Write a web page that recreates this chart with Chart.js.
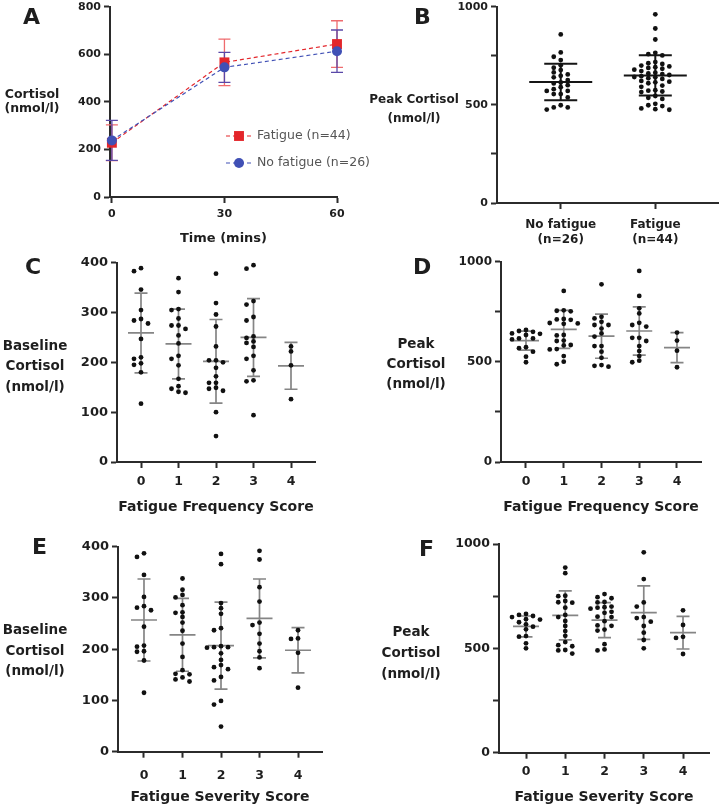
<!DOCTYPE html>
<html>
<head>
<meta charset="utf-8">
<script src="https://cdn.jsdelivr.net/npm/chart.js@4.4.0/dist/chart.umd.min.js"></script>
<style>
	html, body { margin: 0; padding: 0; background: #fff; }
	body { position: relative; width: 722px; height: 810px; overflow: hidden; font-family: 'DejaVu Sans', sans-serif; color: #1e1e1e; }
	canvas { position: absolute; }
	.letter { position: absolute; font-weight: bold; font-size: 22px; line-height: 22px; }
	.ytitle { position: absolute; width: 150px; text-align: center; font-weight: bold; white-space: pre-line; }
</style>
</head>
<body>
<script>
// Panel A: cortisol over time (mean, SD)
const timePoints = [0, 30, 60]
const fatigueMean = [228, 566, 643]
const fatigueSd = [75, 98, 98]
const noFatigueMean = [238, 545, 613]
const noFatigueSd = [84, 63, 89]
const seriesLabels = ['Fatigue (n=44)', 'No fatigue (n=26)']

// Panel B: peak cortisol by group
const groupLabels = [['No fatigue', '(n=26)'], ['Fatigue', '(n=44)']]
const peakNoFatigue = [859, 767, 745, 728, 702, 689, 677, 665, 655, 648, 640, 626, 614, 609, 600, 590, 580, 571, 571, 555, 555, 538, 498, 487, 487, 476]
const peakFatigue = [961, 889, 833, 765, 758, 752, 718, 712, 708, 700, 696, 692, 688, 684, 679, 672, 664, 660, 657, 652, 646, 642, 640, 636, 632, 622, 618, 615, 610, 598, 592, 575, 572, 568, 565, 545, 536, 530, 505, 498, 494, 482, 478, 475]
const groupMean = [617, 650]
const groupSd = [93, 103]

// Panels C-F: scores 0-4
const scoreCats = [0, 1, 2, 3, 4]

const freqBaseline = [
	[389, 383, 346, 305, 287, 284, 278, 247, 210, 207, 198, 195, 180, 117],
	[369, 341, 307, 305, 288, 274, 274, 267, 254, 238, 213, 207, 194, 167, 152, 147, 141, 139],
	[378, 319, 296, 272, 232, 204, 204, 200, 189, 172, 159, 159, 149, 147, 143, 100, 52],
	[395, 388, 323, 316, 291, 284, 252, 249, 242, 239, 231, 213, 207, 184, 164, 162, 94],
	[232, 222, 194, 126],
]
const freqBaselineMean = [259, 237, 202, 250, 193]
const freqBaselineSd = [80, 70, 84, 78, 47]

const freqPeak = [
	[659, 654, 650, 642, 640, 634, 617, 617, 612, 573, 568, 551, 526, 498],
	[854, 757, 755, 752, 714, 712, 710, 694, 692, 690, 634, 632, 606, 604, 584, 582, 564, 562, 529, 501, 488],
	[887, 725, 717, 700, 684, 684, 666, 642, 626, 579, 579, 551, 520, 484, 480, 476],
	[954, 829, 767, 742, 695, 684, 676, 620, 620, 604, 579, 554, 529, 506, 498],
	[646, 606, 556, 473],
]
const freqPeakMean = [606, 662, 628, 654, 571]
const freqPeakSd = [47, 95, 110, 120, 75]

const sevBaseline = [
	[387, 380, 345, 302, 284, 281, 276, 244, 207, 205, 196, 195, 178, 115],
	[338, 316, 306, 301, 286, 272, 271, 263, 252, 236, 211, 185, 159, 152, 151, 145, 141, 137],
	[386, 366, 290, 280, 269, 241, 237, 206, 204, 204, 203, 192, 179, 169, 165, 161, 146, 139, 99, 92, 49],
	[392, 375, 321, 293, 252, 247, 230, 211, 196, 184, 163],
	[237, 221, 220, 193, 125],
]
const sevBaselineMean = [257, 228, 207, 260, 198]
const sevBaselineSd = [80, 71, 85, 77, 44]

const sevPeak = [
	[665, 660, 655, 650, 640, 638, 625, 615, 604, 591, 559, 556, 524, 500],
	[887, 860, 752, 750, 727, 721, 719, 695, 660, 650, 631, 607, 583, 560, 530, 515, 510, 492, 490, 475],
	[760, 745, 740, 722, 720, 700, 697, 695, 690, 675, 670, 652, 650, 630, 610, 608, 590, 585, 520, 495, 490],
	[960, 832, 720, 700, 650, 645, 628, 607, 575, 540, 500],
	[682, 612, 555, 550, 473],
]
const sevPeakMean = [605, 658, 635, 671, 575]
const sevPeakSd = [50, 117, 84, 128, 78]

const FONT = 'DejaVu Sans'
const INK = '#1e1e1e'
const AXIS = '#2b2b2b'
const RED = '#e3262b'
const BLUE = '#4050b5'
const STEP = 7 // px between swarm columns
const GAP = 4.6 // px, points closer than this vertically get spread

const bold = (size) => ({ family: FONT, size, weight: 'bold', lineHeight: 1.2 })

// mean line + SD whiskers
const meanSdPlugin = {
	id: 'meanSd',
	beforeDatasetsDraw(chart, args, opts) {
		const { ctx, scales: { x, y } } = chart
		ctx.save()
		ctx.strokeStyle = opts.color
		ctx.lineWidth = opts.lineWidth
		opts.means.forEach((m, i) => {
			const px = x.getPixelForValue(opts.cats[i])
			const pm = y.getPixelForValue(m)
			const pt = y.getPixelForValue(m + opts.sds[i])
			const pb = y.getPixelForValue(m - opts.sds[i])
			ctx.beginPath()
			ctx.moveTo(px, pt)
			ctx.lineTo(px, pb)
			ctx.moveTo(px - opts.capW / 2, pt)
			ctx.lineTo(px + opts.capW / 2, pt)
			ctx.moveTo(px - opts.capW / 2, pb)
			ctx.lineTo(px + opts.capW / 2, pb)
			ctx.moveTo(px - opts.meanW / 2, pm)
			ctx.lineTo(px + opts.meanW / 2, pm)
			ctx.stroke()
		})
		ctx.restore()
	},
}

// SD error bars for the time course
const errorBarPlugin = {
	id: 'errorBars',
	beforeDatasetsDraw(chart, args, opts) {
		const { ctx, scales: { x, y } } = chart
		ctx.save()
		ctx.lineWidth = 1.3
		opts.series.forEach((s) => {
			ctx.strokeStyle = s.color
			s.means.forEach((m, i) => {
				const px = x.getPixelForValue(opts.xs[i])
				const pt = y.getPixelForValue(m + s.sds[i])
				const pb = y.getPixelForValue(m - s.sds[i])
				ctx.beginPath()
				ctx.moveTo(px, pt)
				ctx.lineTo(px, pb)
				ctx.moveTo(px - 6, pt)
				ctx.lineTo(px + 6, pt)
				ctx.moveTo(px - 6, pb)
				ctx.lineTo(px + 6, pb)
				ctx.stroke()
			})
		})
		ctx.restore()
	},
}

// legend sitting inside the plot of panel A
const insetLegendPlugin = {
	id: 'insetLegend',
	afterDraw(chart, args, opts) {
		const { ctx } = chart
		ctx.save()
		chart.data.datasets.forEach((ds, i) => {
			const ly = opts.y + i * opts.gap
			ctx.strokeStyle = ds.borderColor
			ctx.fillStyle = ds.pointBackgroundColor
			ctx.lineWidth = ds.borderWidth
			ctx.setLineDash(ds.borderDash)
			ctx.beginPath()
			ctx.moveTo(opts.x, ly)
			ctx.lineTo(opts.x + 26, ly)
			ctx.stroke()
			ctx.setLineDash([])
			Chart.helpers.drawPoint(ctx, { pointStyle: ds.pointStyle, radius: ds.pointRadius, borderWidth: 0, rotation: 0 }, opts.x + 13, ly)
			ctx.fillStyle = '#555'
			ctx.font = '12.5px "' + FONT + '"'
			ctx.textBaseline = 'middle'
			ctx.fillText(ds.label, opts.x + 31, ly)
		})
		ctx.restore()
	},
}

function axisStyle() {
	return {
		border: { color: AXIS, width: 2 },
		grid: { drawOnChartArea: false, drawTicks: true, tickLength: 6, tickWidth: 2, tickColor: AXIS },
	}
}

function addText(cls, text, left, top, size, lh) {
	const d = document.createElement('div')
	d.className = cls
	d.textContent = text
	d.style.left = left + 'px'
	d.style.top = top + 'px'
	if (size) {
		d.style.fontSize = size + 'px'
		d.style.lineHeight = lh + 'px'
	}
	document.body.appendChild(d)
}

// y title: cx = centre x, cy = centre of first line
const yTitle = (text, cx, cy, size, lh) => addText('ytitle', text, cx - 75, cy - lh / 2, size, lh)
const letter = (text, x, cy) => addText('letter', text, x, cy - 11)

function panel(cfg) {
	const [L, T, W, H] = cfg.box
	const [x0, y0, x1, y1] = cfg.area
	const cv = document.createElement('canvas')
	cv.width = W
	cv.height = H
	cv.style.left = L + 'px'
	cv.style.top = T + 'px'
	document.body.appendChild(cv)
	return new Chart(cv, {
		type: 'scatter',
		data: { datasets: cfg.datasets },
		plugins: cfg.plugins,
		options: {
			responsive: false,
			animation: false,
			devicePixelRatio: 1,
			layout: { padding: { left: 0, top: y0 - T, right: L + W - x1, bottom: T + H - y1 - cfg.xH } },
			plugins: { legend: { display: false }, tooltip: { enabled: false }, ...cfg.pluginOpts },
			scales: {
				x: {
					type: 'linear',
					min: cfg.xMin,
					max: cfg.xMax,
					...axisStyle(),
					afterBuildTicks: (s) => { s.ticks = cfg.xTicks.map((v) => ({ value: v })) },
					afterFit: (s) => { s.height = cfg.xH },
					ticks: { font: bold(cfg.xTickSize), color: INK, padding: cfg.xTickPad, maxRotation: 0, autoSkip: false, callback: cfg.xLabel },
					title: { display: !!cfg.xTitle, text: cfg.xTitle, font: bold(cfg.xTitleSize || 14), color: INK, padding: 0 },
				},
				y: {
					type: 'linear',
					min: 0,
					max: cfg.yMax,
					...axisStyle(),
					afterFit: (s) => { s.width = x0 - L },
					ticks: { stepSize: cfg.yStep, font: bold(cfg.yTickSize), color: INK, padding: 3, callback: cfg.yLabel },
				},
			},
		},
	})
}

// spread the dots of each column sideways like a GraphPad scatter
function swarm(chart, groups, cats) {
	const xs = chart.scales.x
	const ys = chart.scales.y
	const unit = xs.getPixelForValue(1) - xs.getPixelForValue(0)
	groups.forEach((vals, gi) => {
		const placed = []
		chart.data.datasets[gi].data = vals.map((v) => {
			const py = ys.getPixelForValue(v)
			let dx = 0
			for (let k = 0; k < 30; k += 1) {
				const cand = k === 0 ? 0 : (k % 2 ? -1 : 1) * Math.ceil(k / 2) * STEP
				const hit = placed.some((p) => Math.abs(p.dx - cand) < STEP - 0.5 && Math.abs(p.py - py) < GAP)
				if (!hit) { dx = cand; break }
			}
			placed.push({ dx, py })
			return { x: cats[gi] + dx / unit, y: v }
		})
	})
	chart.update('none')
}

function dotSets(groups, cats) {
	return groups.map((vals, i) => ({
		data: vals.map((v) => ({ x: cats[i], y: v })),
		pointRadius: 2.4,
		pointBackgroundColor: '#111',
		pointBorderWidth: 0,
		clip: false,
	}))
}

const peakLabel = (v) => (v % 500 === 0 ? v : '')

// ---- A
const lineSet = (label, means, color, style, radius, order) => ({
	label,
	data: timePoints.map((t, i) => ({ x: t, y: means[i] })),
	showLine: true,
	borderColor: color,
	borderWidth: 1.2,
	borderDash: [4, 3],
	pointStyle: style,
	pointRadius: radius,
	pointBackgroundColor: color,
	pointBorderWidth: 0,
	clip: false,
	order,
})

panel({
	box: [0, -10, 420, 270],
	area: [110, 6.7, 337, 197],
	xH: 49,
	xMin: -0.5,
	xMax: 60,
	xTicks: timePoints,
	xTickSize: 11,
	xTickPad: 5,
	xTitle: 'Time (mins)',
	xTitleSize: 13,
	yMax: 800,
	yStep: 200,
	yTickSize: 11,
	datasets: [
		lineSet(seriesLabels[0], fatigueMean, RED, 'rect', 7, 1),
		lineSet(seriesLabels[1], noFatigueMean, BLUE, 'circle', 5, 0),
	],
	plugins: [errorBarPlugin, insetLegendPlugin],
	pluginOpts: {
		errorBars: {
			xs: timePoints,
			series: [
				{ means: fatigueMean, sds: fatigueSd, color: '#ef6b6e' },
				{ means: noFatigueMean, sds: noFatigueSd, color: '#5a48a8' },
			],
		},
		insetLegend: { x: 226, y: 146, gap: 27 },
	},
})

// ---- B
const groupCats = [1, 2]
const chartB = panel({
	box: [361, -10, 361, 270],
	area: [497, 6.7, 719, 203],
	xH: 50,
	xMin: 0.326,
	xMax: 2.663,
	xTicks: groupCats,
	xLabel: (v, i) => groupLabels[i],
	xTickSize: 12,
	xTickPad: 9,
	yMax: 1000,
	yStep: 250,
	yLabel: peakLabel,
	yTickSize: 11,
	datasets: dotSets([peakNoFatigue, peakFatigue], groupCats),
	plugins: [meanSdPlugin],
	pluginOpts: { meanSd: { cats: groupCats, means: groupMean, sds: groupSd, color: '#151515', lineWidth: 2, meanW: 63, capW: 33 } },
})
swarm(chartB, [peakNoFatigue, peakFatigue], groupCats)

// ---- C to F
const grayBars = (means, sds) => ({ meanSd: { cats: scoreCats, means, sds, color: '#858585', lineWidth: 1.7, meanW: 26, capW: 13 } })

const scorePanels = [
	{ box: [0, 250, 361, 270], area: [117, 262.7, 315, 462], xMin: -0.64, xMax: 4.64, xTickPad: 6.5, xH: 53.4, title: 'Fatigue Frequency Score', yMax: 400, yStep: 100, yTickSize: 13, groups: freqBaseline, means: freqBaselineMean, sds: freqBaselineSd },
	{ box: [361, 250, 361, 270], area: [501, 261.7, 701, 462], xMin: -0.662, xMax: 4.636, xTickPad: 6.5, xH: 53.4, title: 'Fatigue Frequency Score', yMax: 1000, yStep: 250, yTickSize: 12, groups: freqPeak, means: freqPeakMean, sds: freqPeakSd },
	{ box: [0, 530, 361, 280], area: [118, 546.7, 322, 751.7], xMin: -0.675, xMax: 4.623, xTickPad: 11, xH: 53.7, title: 'Fatigue Severity Score', yMax: 400, yStep: 100, yTickSize: 13, groups: sevBaseline, means: sevBaselineMean, sds: sevBaselineSd },
	{ box: [361, 530, 361, 280], area: [499, 544, 709, 752.7], xMin: -0.688, xMax: 4.662, xTickPad: 6, xH: 52.7, title: 'Fatigue Severity Score', yMax: 1000, yStep: 250, yTickSize: 12.5, groups: sevPeak, means: sevPeakMean, sds: sevPeakSd },
]

scorePanels.forEach((p) => {
	const chart = panel({
		box: p.box,
		area: p.area,
		xH: p.xH,
		xMin: p.xMin,
		xMax: p.xMax,
		xTicks: scoreCats,
		xTickSize: 12.5,
		xTickPad: p.xTickPad,
		xTitle: p.title,
		yMax: p.yMax,
		yStep: p.yStep,
		yLabel: p.yMax === 1000 ? peakLabel : undefined,
		yTickSize: p.yTickSize,
		datasets: dotSets(p.groups, scoreCats),
		plugins: [meanSdPlugin],
		pluginOpts: grayBars(p.means, p.sds),
	})
	swarm(chart, p.groups, scoreCats)
})

// titles and panel letters
yTitle('Cortisol\n(nmol/l)', 32, 94, 12.5, 14.5)
yTitle('Peak Cortisol\n(nmol/l)', 414, 99.5, 12, 19)
yTitle('Baseline\nCortisol\n(nmol/l)', 35, 345, 13.5, 20.5)
yTitle('Peak\nCortisol\n(nmol/l)', 416, 343.3, 13.5, 20)
yTitle('Baseline\nCortisol\n(nmol/l)', 35, 629.3, 13.5, 20.5)
yTitle('Peak\nCortisol\n(nmol/l)', 411, 631.7, 13.5, 21)

letter('A', 23, 17)
letter('B', 414, 16.7)
letter('C', 25, 266.5)
letter('D', 413, 266.5)
letter('E', 32, 546.7)
letter('F', 419, 549)
</script>
</body>
</html>
